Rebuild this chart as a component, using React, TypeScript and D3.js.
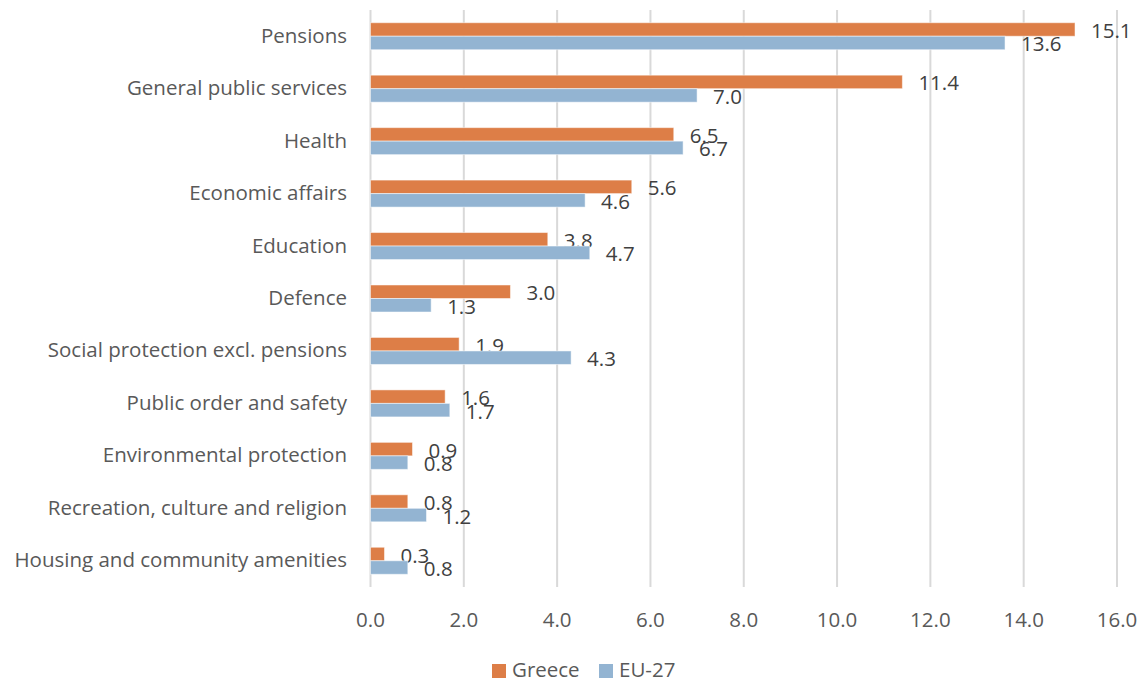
import React from "react";
import * as d3 from "d3";

const categories = [
  "Pensions",
  "General public services",
  "Health",
  "Economic affairs",
  "Education",
  "Defence",
  "Social protection excl. pensions",
  "Public order and safety",
  "Environmental protection",
  "Recreation, culture and religion",
  "Housing and community amenities",
];
const greece = [15.1, 11.4, 6.5, 5.6, 3.8, 3.0, 1.9, 1.6, 0.9, 0.8, 0.3];
const eu27 = [13.6, 7.0, 6.7, 4.6, 4.7, 1.3, 4.3, 1.7, 0.8, 1.2, 0.8];
const xTicks = [0, 2, 4, 6, 8, 10, 12, 14, 16];
const seriesNames = ["Greece", "EU-27"];
const colors = ["#dd7e47", "#93b4d2"];

const W = 1142;
const H = 681;
const FONT = "'Open Sans', sans-serif";
const FS = 20.5;

export default function App() {
  const x = d3.scaleLinear().domain([0, 16]).range([370.5, 1117]);
  const y = d3.scaleBand<string>().domain(categories).range([10, 587]).paddingInner(0.485).paddingOuter(0.2425);
  const bh = y.bandwidth() / 2;
  const series = [greece, eu27];
  return (
    <svg width={W} height={H} style={{ position: "absolute", left: 0, top: 0, background: "#fff" }} fontFamily={FONT}>
      {xTicks.map((t) => (
        <line key={"g" + t} x1={x(t)} x2={x(t)} y1={10} y2={587} stroke="#d9d9d9" strokeWidth={2} />
      ))}
      {categories.map((c, i) => (
        <g key={c}>
          {series.map((s, k) => {
            const y0 = (y(c) as number) + k * bh;
            return (
              <g key={k}>
                <rect x={x(0)} y={y0} width={x(s[i]) - x(0)} height={bh} fill={colors[k]} stroke="#ffffff" strokeOpacity={0.5} strokeWidth={1} />
                <text x={x(s[i]) + 16} y={y0 + bh / 2 + 0.5} dominantBaseline="central" fontSize={FS} fill="#404040">
                  {s[i].toFixed(1)}
                </text>
              </g>
            );
          })}
          <text x={347} y={(y(c) as number) + bh - 1.5} dominantBaseline="central" textAnchor="end" fontSize={FS} fill="#595959">
            {c}
          </text>
        </g>
      ))}
      {xTicks.map((t) => (
        <text key={"t" + t} x={x(t)} y={619} dominantBaseline="central" textAnchor="middle" fontSize={FS} fill="#595959">
          {t.toFixed(1)}
        </text>
      ))}
      {seriesNames.map((n, k) => {
        const lx = k === 0 ? 492 : 599;
        return (
          <g key={n}>
            <rect x={lx} y={664} width={14} height={14} fill={colors[k]} />
            <text x={lx + 20} y={669} dominantBaseline="central" fontSize={FS} fill="#595959">
              {n}
            </text>
          </g>
        );
      })}
    </svg>
  );
}
